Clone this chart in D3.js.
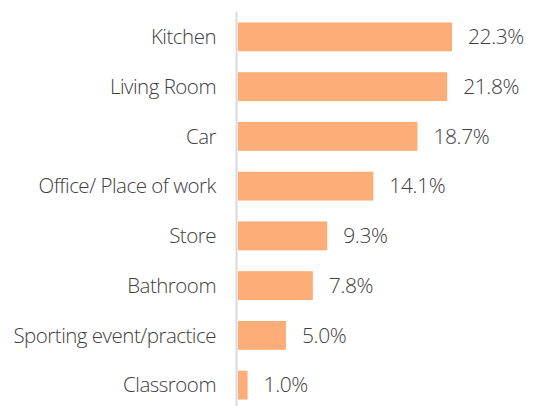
<!DOCTYPE html>
<meta charset="utf-8">
<script src="https://d3js.org/d3.v7.min.js"></script>
<style>
    body { margin: 0; background: #fff; }
    text { font-family: "Open Sans", sans-serif; font-weight: 300; fill: #404040; }
</style>
<div id="base"></div>
<script>
    var places = ["Kitchen", "Living Room", "Car", "Office/ Place of work", "Store",
        "Bathroom", "Sporting event/practice", "Classroom"];
    var shares = [22.3, 21.8, 18.7, 14.1, 9.3, 7.8, 5.0, 1.0];

    var W = 534, H = 406,
        plotLeft = 238, plotTop = 12, plotBottom = 410;

    var svg = d3.select("#base")
        .append("svg")
        .attr("width", W)
        .attr("height", H);

    var x = d3.scaleLinear()
        .domain([0, 22.3])
        .range([plotLeft, 452]);

    var y = d3.scaleBand()
        .domain(places)
        .range([plotTop, plotBottom])
        .paddingInner(0.42)
        .paddingOuter(0.21);

    svg.append("g")
        .selectAll("rect")
        .data(places)
        .enter()
        .append("rect")
        .attr("x", x(0))
        .attr("y", function (d) { return y(d); })
        .attr("width", function (d, i) { return x(shares[i]) - x(0); })
        .attr("height", y.bandwidth())
        .style("fill", "#fdad77");

    // axis line
    svg.append("line")
        .attr("x1", 236.5).attr("x2", 236.5)
        .attr("y1", plotTop).attr("y2", H)
        .style("stroke", "#d9d9d9")
        .style("stroke-width", 2);

    // category labels
    svg.append("g")
        .selectAll("text")
        .data(places)
        .enter()
        .append("text")
        .attr("x", 216)
        .attr("y", function (d) { return y(d) + y.bandwidth() / 2; })
        .attr("dy", "0.35em")
        .attr("text-anchor", "end")
        .attr("font-size", "20.5px")
        .attr("letter-spacing", "-0.5px")
        .text(function (d) { return d; });

    // value labels
    svg.append("g")
        .selectAll("text")
        .data(places)
        .enter()
        .append("text")
        .attr("x", function (d, i) { return x(shares[i]) + 16; })
        .attr("y", function (d) { return y(d) + y.bandwidth() / 2; })
        .attr("dy", "0.35em")
        .attr("font-size", "21px")
        .attr("letter-spacing", "-0.4px")
        .text(function (d, i) { return shares[i].toFixed(1) + "%"; });
</script>
